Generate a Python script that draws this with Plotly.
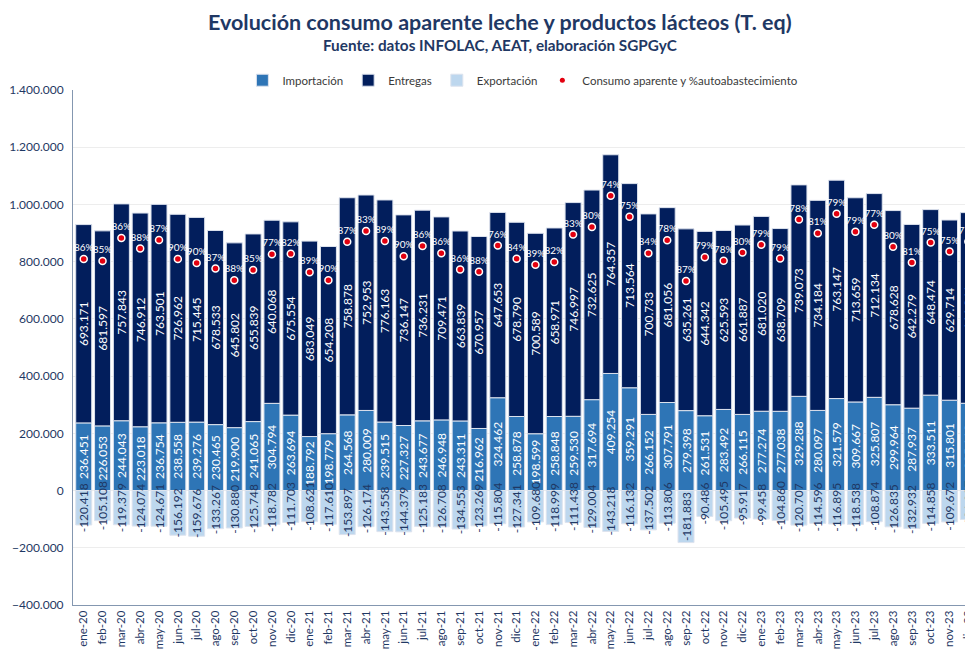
import plotly.graph_objects as go

meses = ["ene-20","feb-20","mar-20","abr-20","may-20","jun-20","jul-20","ago-20","sep-20","oct-20","nov-20","dic-20",
         "ene-21","feb-21","mar-21","abr-21","may-21","jun-21","jul-21","ago-21","sep-21","oct-21","nov-21","dic-21",
         "ene-22","feb-22","mar-22","abr-22","may-22","jun-22","jul-22","ago-22","sep-22","oct-22","nov-22","dic-22",
         "ene-23","feb-23","mar-23","abr-23","may-23","jun-23","jul-23","ago-23","sep-23","oct-23","nov-23","dic-23"]

importacion = [236451, 226053, 244043, 223018, 236754, 238558, 239276, 230465, 219900, 241065, 304794, 263694,
               188792, 198779, 264568, 280009, 239515, 227327, 243677, 246948, 243311, 216962, 324462, 258878,
               198599, 258848, 259530, 317694, 409254, 359291, 266152, 307791, 279398, 261531, 283492, 266115,
               277274, 277038, 329288, 280097, 321579, 309667, 325807, 299964, 287937, 333511, 315801, 305113]

entregas = [693171, 681597, 757843, 746912, 763501, 726962, 715445, 678533, 645802, 655839, 640068, 675554,
            683049, 654208, 758878, 752953, 776163, 736147, 736231, 709471, 663839, 670957, 647653, 678790,
            700589, 658971, 746997, 732625, 764357, 713564, 700733, 681056, 635261, 644342, 625593, 661887,
            681020, 638709, 739073, 734184, 763147, 713659, 712134, 678628, 642279, 648474, 629714, 666341]

exportacion = [-120418, -105108, -119379, -124074, -124671, -156192, -159676, -133267, -130880, -125748, -118782, -111703,
               -108621, -117610, -153897, -126174, -143558, -144379, -125183, -126708, -134553, -123269, -115804, -127341,
               -109680, -118999, -111438, -129004, -143218, -116132, -137502, -113806, -181883, -90486, -105495, -95917,
               -99458, -104860, -120707, -114596, -116895, -118538, -108874, -126835, -132932, -114858, -109672, -101037]

consumo = [809204, 802542, 882507, 845856, 875584, 809328, 795045, 775731, 734822, 771156, 826080, 827545,
           763220, 735377, 869549, 906788, 872120, 819095, 854725, 829711, 772597, 764650, 856311, 810327,
           789508, 798820, 895089, 921315, 1030393, 956723, 829383, 875041, 732776, 815387, 803590, 832085,
           858836, 810887, 947654, 899685, 967831, 904788, 929067, 851757, 797284, 867127, 835843, 870417]

autoabast = [86, 85, 86, 88, 87, 90, 90, 87, 88, 85, 77, 82,
             89, 90, 87, 83, 89, 90, 86, 86, 86, 88, 76, 84,
             89, 82, 83, 80, 74, 75, 84, 78, 87, 79, 78, 80,
             79, 79, 78, 81, 79, 79, 77, 80, 81, 75, 75, 77]

FONT = "Lato, 'Open Sans', sans-serif"
NAVY = "#1f3864"
C_IMP = "#2e75b6"
C_ENT = "#021e5c"
C_EXP = "#bdd7ee"
C_LINE = "#dde3ee"

fig = go.Figure()
common = dict(textposition="inside", textangle=-90, insidetextanchor="middle",
              constraintext="none", texttemplate="%{y:,.0f}", cliponaxis=True)

fig.add_trace(go.Bar(name="Importación", x=meses, y=importacion,
                     marker=dict(color=C_IMP, line=dict(color=C_LINE, width=1)),
                     insidetextfont=dict(color="white", size=12, family=FONT), **common))
fig.add_trace(go.Bar(name="Entregas", x=meses, y=entregas,
                     marker=dict(color=C_ENT, line=dict(color=C_LINE, width=1)),
                     insidetextfont=dict(color="white", size=12, family=FONT), **common))
fig.add_trace(go.Bar(name="Exportación", x=meses, y=exportacion,
                     marker=dict(color=C_EXP, line=dict(color=C_LINE, width=1)),
                     insidetextfont=dict(color=NAVY, size=12, family=FONT), **common))

fig.add_trace(go.Scatter(x=meses, y=consumo, mode="markers+text",
                         text=[f"{p}%" for p in autoabast], textposition="top center",
                         textfont=dict(color="white", size=10, family=FONT),
                         marker=dict(color="#e3000f", size=7, line=dict(color="white", width=1.5)),
                         showlegend=False, name="Consumo aparente y %autoabastecimiento"))
fig.add_trace(go.Scatter(x=[None], y=[None], mode="markers",
                         marker=dict(color="#e3000f", size=5),
                         name="Consumo aparente y %autoabastecimiento"))

fig.update_layout(
    width=993, height=649,
    margin=dict(l=65, r=8, t=82, b=52),
    barmode="relative", bargap=0.15,
    separators=",.",
    plot_bgcolor="white", paper_bgcolor="white",
    font=dict(family=FONT, color=NAVY, size=12),
    legend=dict(orientation="h", x=0.489, xanchor="center", y=1.019, yanchor="middle",
                font=dict(size=11.5, color="#3a3a3a", family=FONT), traceorder="normal",
                itemwidth=30, bgcolor="rgba(0,0,0,0)"),
    showlegend=True,
    annotations=[
        dict(text="<b>Evolución consumo aparente leche y productos lácteos (T. eq)</b>",
             xref="paper", yref="paper", x=0.464, y=1.132, xanchor="center", yanchor="middle",
             showarrow=False, font=dict(size=21.5, color=NAVY, family=FONT)),
        dict(text="<b>Fuente: datos INFOLAC, AEAT, elaboración SGPGyC</b>",
             xref="paper", yref="paper", x=0.464, y=1.087, xanchor="center", yanchor="middle",
             showarrow=False, font=dict(size=15.3, color=NAVY, family=FONT)),
    ],
)

fig.update_xaxes(type="category", range=[-0.57, 48.31], tickangle=-90,
                 tickfont=dict(size=11.5, color=NAVY, family=FONT), automargin=False,
                 showline=True, linecolor="#8497b0", linewidth=1, showgrid=False, ticks="")
fig.update_yaxes(range=[-400000, 1400000], dtick=200000, tickformat=",.0f",
                 tickfont=dict(size=12, color=NAVY, family=FONT), automargin=False,
                 showline=True, linecolor="#8497b0", linewidth=1,
                 showgrid=True, gridcolor="#ededed", gridwidth=1, zeroline=False,
                 ticks="", ticklabelstandoff=6)

fig.write_html("out.html")
